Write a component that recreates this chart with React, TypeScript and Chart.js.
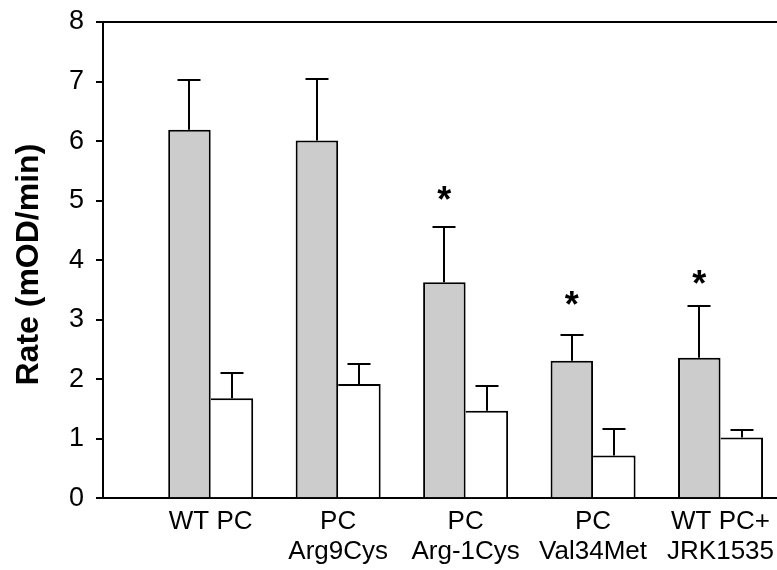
import React, { useEffect, useRef } from 'react';
import { Chart, registerables } from 'chart.js';

Chart.register(...registerables);

const FONT = '"Liberation Sans", Arial, Helvetica, sans-serif';

// ---- data ----
const categories: string[][] = [
  ['WT PC'],
  ['PC', 'Arg9Cys'],
  ['PC', 'Arg-1Cys'],
  ['PC', 'Val34Met'],
  ['WT PC+', 'JRK1535'],
];
const positions = [0, 1, 2, 3, 4];
const greyValues = [6.19, 6.01, 3.63, 2.31, 2.36];
const greyErrors = [0.83, 1.04, 0.92, 0.44, 0.87];
const whiteValues = [1.68, 1.92, 1.47, 0.72, 1.02];
const whiteErrors = [0.43, 0.33, 0.41, 0.44, 0.13];
const starMarks = ['', '', '*', '*', '*'];
const starLevels: (number | null)[] = [null, null, 5.13, 3.37, 3.71];
const yMin = 0;
const yMax = 8;
const yStep = 1;
const yTitle = 'Rate (mOD/min)';

const errorBarPlugin = {
  id: 'errorBarsAndMarks',
  afterDatasetsDraw(chart: any) {
    const ctx = chart.ctx;
    const y = chart.scales.y;
    const vals = [greyValues, whiteValues];
    const errs = [greyErrors, whiteErrors];
    ctx.save();
    ctx.strokeStyle = '#000';
    ctx.lineWidth = 2;
    chart.data.datasets.forEach((_ds: any, di: number) => {
      const meta = chart.getDatasetMeta(di);
      meta.data.forEach((bar: any, i: number) => {
        const x = Math.round(bar.x);
        const base = y.getPixelForValue(vals[di][i]);
        const top = Math.round(y.getPixelForValue(vals[di][i] + errs[di][i]));
        ctx.beginPath();
        ctx.moveTo(x, base);
        ctx.lineTo(x, top);
        ctx.moveTo(x - 11.5, top);
        ctx.lineTo(x + 11.5, top);
        ctx.stroke();
      });
    });
    // top frame line
    const { left, right, top } = chart.chartArea;
    ctx.beginPath();
    ctx.moveTo(left - 1, Math.round(top));
    ctx.lineTo(right, Math.round(top));
    ctx.stroke();
    // significance marks
    const meta0 = chart.getDatasetMeta(0);
    ctx.fillStyle = '#000';
    ctx.font = `bold 36px ${FONT}`;
    ctx.textAlign = 'center';
    ctx.textBaseline = 'alphabetic';
    starMarks.forEach((m, i) => {
      const lvl = starLevels[i];
      if (!m || lvl == null) return;
      const x = meta0.data[i].x;
      const cy = y.getPixelForValue(lvl);
      const tm = ctx.measureText(m);
      const asc = tm.actualBoundingBoxAscent;
      const desc = tm.actualBoundingBoxDescent;
      const baseline = cy - (desc - asc) / 2;
      ctx.fillText(m, x, baseline);
    });
    ctx.restore();
  },
};

export default function App() {
  const ref = useRef<HTMLCanvasElement | null>(null);
  useEffect(() => {
    if (!ref.current) return;
    const chart = new Chart(ref.current, {
      type: 'bar',
      data: {
        datasets: [
          {
            data: positions.map((p, i) => ({ x: p, y: greyValues[i] })),
            backgroundColor: '#cccccc',
            borderColor: '#000',
            borderWidth: 2,
            borderSkipped: 'start',
          },
          {
            data: positions.map((p, i) => ({ x: p, y: whiteValues[i] })),
            backgroundColor: '#ffffff',
            borderColor: '#000',
            borderWidth: { top: 2, right: 2, left: 0, bottom: 0 },
            borderSkipped: 'start',
          },
        ],
      },
      options: {
        responsive: false,
        animation: false,
        devicePixelRatio: 1,
        events: [],
        categoryPercentage: 0.667,
        barPercentage: 1,
        layout: { padding: { top: 22, right: 0, left: 0, bottom: 0 } },
        plugins: { legend: { display: false }, tooltip: { enabled: false } },
        scales: {
          x: {
            type: 'linear',
            position: 'bottom',
            offset: false,
            min: -0.845,
            max: 4.443,
            grid: { display: false, drawTicks: false, offset: false },
            border: { display: true, color: '#000', width: 2 },
            afterBuildTicks: (s: any) => {
              s.ticks = positions.map((v) => ({ value: v }));
            },
            afterFit: (s: any) => {
              s.height = 71.7;
              s.paddingLeft = 0;
              s.paddingRight = 0;
            },
            ticks: {
              autoSkip: false,
              maxRotation: 0,
              minRotation: 0,
              padding: 9,
              color: '#000',
              font: { family: FONT, size: 26, lineHeight: 1.15 },
              callback: (v: any) => categories[v as number] ?? '',
            },
          },
          y: {
            min: yMin,
            max: yMax,
            ticks: {
              stepSize: yStep,
              padding: 12,
              color: '#000',
              font: { family: FONT, size: 27 },
            },
            grid: {
              drawOnChartArea: false,
              drawTicks: true,
              tickLength: 7,
              color: '#000',
              lineWidth: 2,
            },
            border: { display: true, color: '#000', width: 2 },
            title: {
              display: true,
              text: yTitle + ' ',
              color: '#000',
              font: { family: FONT, size: 32, weight: 'bold', lineHeight: 1 },
              padding: { top: 13, bottom: 0 },
            },
            afterFit: (s: any) => {
              s.width = 103;
              s.paddingTop = 0;
              s.paddingBottom = 0;
            },
          },
        },
      } as any,
      plugins: [errorBarPlugin],
    });
    return () => chart.destroy();
  }, []);
  return (
    <div style={{ position: 'fixed', left: 0, top: 0, width: 777, height: 570, background: '#fff' }}>
      <canvas ref={ref} width={777} height={570} style={{ display: 'block' }} />
    </div>
  );
}
